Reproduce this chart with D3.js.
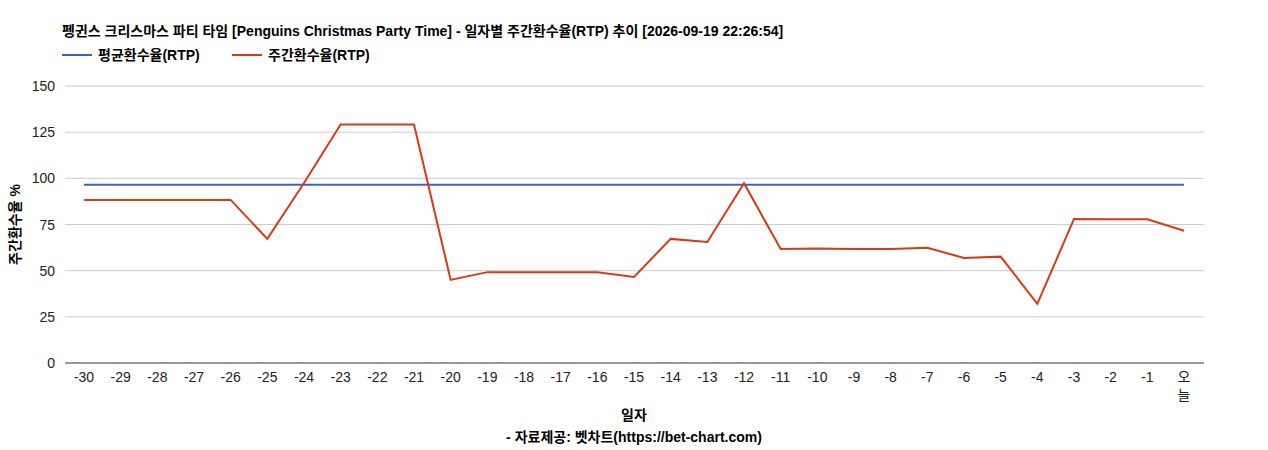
<!DOCTYPE html>
<html>
<head>
<meta charset="UTF-8">
<script src="https://cdn.jsdelivr.net/npm/d3@7"></script>
<style>
body { margin: 0; background: #fff; }
</style>
</head>
<body>
<svg id="chart" width="1268" height="450"></svg>
<script>
var categories = ["-30","-29","-28","-27","-26","-25","-24","-23","-22","-21","-20","-19","-18","-17","-16","-15","-14","-13","-12","-11","-10","-9","-8","-7","-6","-5","-4","-3","-2","-1","오늘"];
var weeklyRtp = [88.3,88.3,88.3,88.3,88.3,67.2,97.5,129.2,129.2,129.2,45,49.2,49.2,49.2,49.2,46.6,67.2,65.5,97.3,61.7,62,61.8,61.8,62.4,56.9,57.6,32,78,77.8,77.8,71.6];
var avgRtp = 96.5;
var yTicks = [0,25,50,75,100,125,150];

var svg = d3.select("#chart");
var plotLeft = 65, plotRight = 1204, plotTop = 86, plotBottom = 363;
var x = d3.scalePoint().domain(categories).range([84, 1184]);
var y = d3.scaleLinear().domain([0,150]).range([plotBottom, plotTop]);
var font = "'Liberation Sans', Arial, 'Noto Sans CJK KR', sans-serif";

svg.append("text").attr("x", 62).attr("y", 36).attr("font-size", 14).attr("font-weight", "bold")
  .attr("font-family", font).text("펭귄스 크리스마스 파티 타임 [Penguins Christmas Party Time] - 일자별 주간환수율(RTP) 추이 [2026-09-19 22:26:54]");

// legend
var legend = [["평균환수율(RTP)", "#3366cc", 62], ["주간환수율(RTP)", "#dc3912", 232]];
legend.forEach(function (d) {
  svg.append("line").attr("x1", d[2]).attr("x2", d[2] + 30).attr("y1", 55).attr("y2", 55)
    .attr("stroke", d[1]).attr("stroke-width", 2);
  svg.append("text").attr("x", d[2] + 36).attr("y", 60).attr("font-size", 14).attr("font-weight", "bold")
    .attr("font-family", font).text(d[0]);
});

// grid
svg.selectAll(".grid").data(yTicks).enter().append("line")
  .attr("x1", plotLeft).attr("x2", plotRight).attr("y1", d => y(d)).attr("y2", d => y(d))
  .attr("stroke", d => d === 0 ? "#333" : "#ccc").attr("stroke-width", 1);
svg.selectAll(".ylab").data(yTicks).enter().append("text")
  .attr("x", 55).attr("y", d => y(d) + 5).attr("text-anchor", "end").attr("font-size", 14)
  .attr("font-family", font).attr("fill", "#222").text(d => d);

// x labels
categories.forEach(function (c) {
  var t = svg.append("text").attr("x", x(c)).attr("y", 382).attr("text-anchor", "middle")
    .attr("font-size", 14).attr("font-family", font).attr("fill", "#222");
  if (c === "오늘") {
    t.append("tspan").attr("x", x(c)).text("오");
    t.append("tspan").attr("x", x(c)).attr("dy", 18).text("늘");
  } else t.text(c);
});

svg.append("text").attr("x", 634).attr("y", 420).attr("text-anchor", "middle").attr("font-size", 14)
  .attr("font-weight", "bold").attr("font-family", font).text("일자");
svg.append("text").attr("x", 634).attr("y", 442).attr("text-anchor", "middle").attr("font-size", 14)
  .attr("font-weight", "bold").attr("font-family", font).text("- 자료제공: 벳차트(https://bet-chart.com)");
svg.append("text").attr("transform", "translate(20," + ((plotTop + plotBottom) / 2) + ") rotate(-90)")
  .attr("text-anchor", "middle").attr("font-size", 14).attr("font-weight", "bold")
  .attr("font-family", font).text("주간환수율 %");

svg.append("line").attr("x1", x(categories[0])).attr("x2", x(categories[categories.length - 1]))
  .attr("y1", y(avgRtp)).attr("y2", y(avgRtp)).attr("stroke", "#3366cc").attr("stroke-width", 2);

var line = d3.line().x((d, i) => x(categories[i])).y(d => y(d));
svg.append("path").datum(weeklyRtp).attr("d", line).attr("fill", "none")
  .attr("stroke", "#dc3912").attr("stroke-width", 2);
</script>
</body>
</html>
